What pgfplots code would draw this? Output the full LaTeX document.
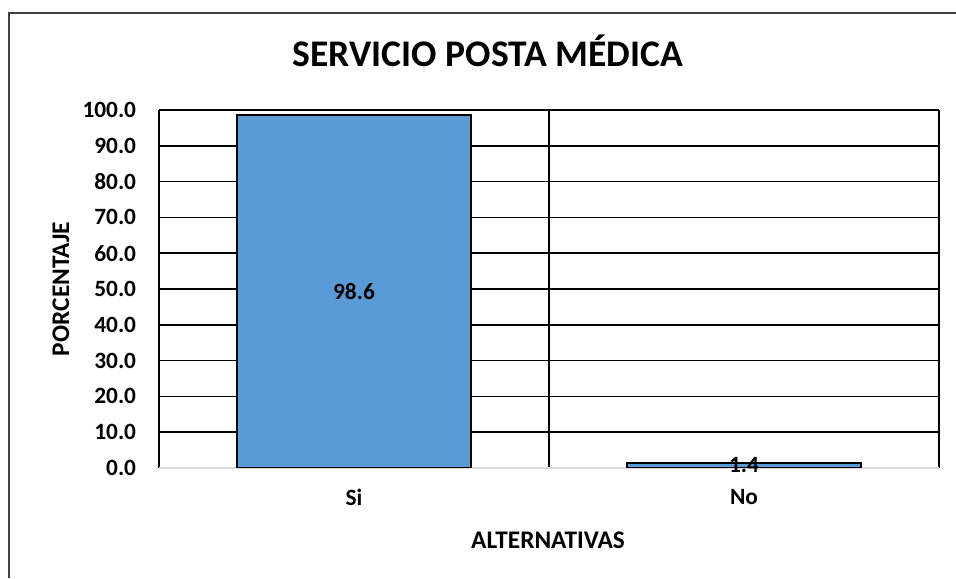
\documentclass[border=0pt]{standalone}
\usepackage{pgfplots}
\pgfplotsset{compat=1.18}
\usepackage{fontspec}
\setmainfont{Carlito}
\definecolor{barblue}{HTML}{5B9BD5}
\definecolor{framegray}{HTML}{404040}
\newcommand{\lblfont}{\fontsize{17.5}{20}\selectfont\bfseries}
\newcommand{\ttlfont}{\fontsize{19}{22}\selectfont\bfseries}
\begin{document}
\begin{tikzpicture}[x=0.75pt,y=0.75pt]
\useasboundingbox (0,0) rectangle (956,578);
\draw[framegray, line width=1.5pt] (9,0) -- (9,565) -- (956,565);
\begin{axis}[
    at={(119.25pt,82.5pt)}, anchor=south west,
    scale only axis, width=585pt, height=268.5pt,
    ybar, bar width=0.6,
    xmin=-0.5, xmax=1.5, ymin=0, ymax=100,
    xtick={0,1}, xticklabels={Si,No},
    ytick={10,20,...,100},
    ymajorgrids,
    grid style={black, line width=1.1pt},
    extra y ticks={0},
    extra y tick style={grid=major, grid style={black!15, line width=1pt}},
    extra x ticks={-0.5,0.5,1.5}, extra x tick labels={},
    extra x tick style={grid=major, grid style={black, line width=1.1pt}},
    axis line style={draw=none},
    major tick length=0pt,
    /pgf/number format/assume math mode=true,
    yticklabel style={font=\lblfont, inner sep=0pt, xshift=-17pt,
        /pgf/number format/.cd, fixed, fixed zerofill, precision=1},
    xticklabel style={font=\lblfont, inner sep=0pt, yshift=-16pt},
    nodes near coords={\pgfmathprintnumber[fixed,fixed zerofill,precision=1]{\pgfplotspointmeta}},
    visualization depends on={y \as \rawy},
    every node near coord/.append style={font=\lblfont, anchor=center,
        shift={(axis direction cs:0,-\rawy/2)}},
]
\addplot[fill=barblue, draw=black, line width=0.9pt] coordinates {(0,98.6) (1,1.4)};
\end{axis}
\node[font=\fontsize{28.2}{33}\selectfont\bfseries, anchor=base] at (488,511) {SERVICIO POSTA MÉDICA};
\node[font=\ttlfont, rotate=90] at (61,289) {PORCENTAJE};
\node[font=\ttlfont] at (548,38) {ALTERNATIVAS};
\end{tikzpicture}
\end{document}
